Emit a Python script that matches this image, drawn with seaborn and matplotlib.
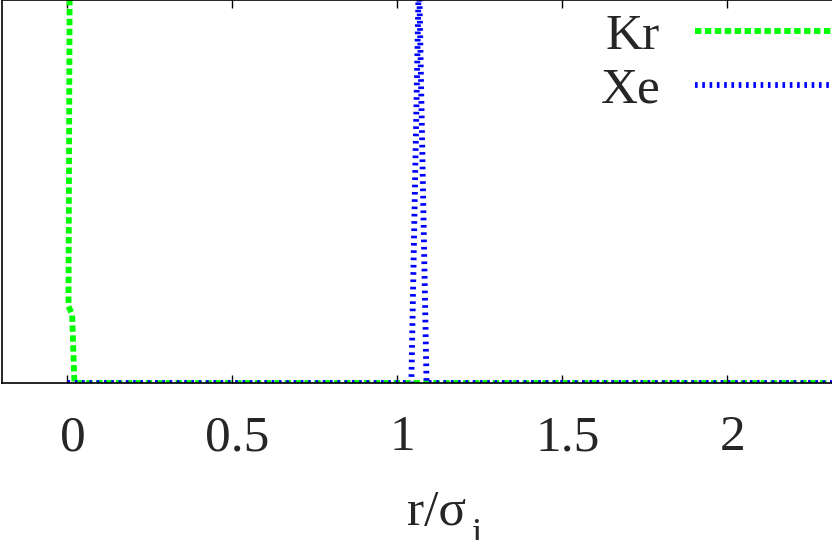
import matplotlib
matplotlib.use("Agg")
import matplotlib.pyplot as plt
import matplotlib.transforms as mtransforms
import seaborn as sns

# radial profiles (g in units of the visible y range)
r_kr = [0.0085, 0.003, 0.014, 0.021, 0.5, 1.0, 1.5, 2.0, 2.5]
g_kr = [1.5, 0.2, 0.18, 0.0, 0.0, 0.0, 0.0, 0.0, 0.0]

r_xe = [0.0, 0.5, 1.042, 1.065, 1.088, 1.5, 2.0, 2.5]
g_xe = [0.0, 0.0, 0.0, 1.08, 0.0, 0.0, 0.0, 0.0]

xticks = [0, 0.5, 1, 1.5, 2, 2.5]
xticklabels = ["0", "0.5", "1", "1.5", "2", ""]   # 2.5 falls outside the crop

sns.set_theme(style="white")
plt.rcParams["font.family"] = ["Liberation Serif", "DejaVu Serif"]

fig = plt.figure(figsize=(8.32, 5.40), dpi=100)
# the original is a crop of a bigger gnuplot figure, so the axes run off the right edge
ax = fig.add_axes([1.5 / 832, (540 - 383) / 540, 891 / 832, 383 / 540])

sns.lineplot(x=r_kr, y=g_kr, sort=False, color="#00ff00", lw=4.2,
             ls=(0, (1.1, 0.6)), label="Kr", ax=ax)
sns.lineplot(x=r_xe, y=g_xe, sort=False, color="#0000ff", lw=4.2,
             ls=(0, (0.45, 0.8)), label="Xe", ax=ax)
for ln in ax.get_lines():
    ln.set_dash_capstyle("butt")

ax.set_xlim(-0.2, 2.5)
ax.set_ylim(0, 1)
ax.set_xticks(xticks)
ax.set_xticklabels(xticklabels)
ax.set_yticks([])
ax.tick_params(axis="x", direction="in", length=6, width=1, color="black",
               top=True, bottom=True, labelsize=37, pad=23)
offset = mtransforms.ScaledTranslation(5 / 100, 0, fig.dpi_scale_trans)
for lab in ax.get_xticklabels():
    lab.set_transform(lab.get_transform() + offset)

for sp in ax.spines.values():
    sp.set_visible(True)
    sp.set_color("black")
    sp.set_linewidth(1.2)

ax.set_xlabel("r/σ", fontsize=37, labelpad=20)
ax.xaxis.label.set_x(0.488)
ax.set_ylabel("")
# subscript i, set low and small like the gnuplot enhanced text
ax.annotate("i", xy=(1, 0), xycoords=ax.xaxis.label, xytext=(4, -6),
            textcoords="offset points", ha="left", va="baseline", fontsize=27,
            annotation_clip=False)

leg = ax.legend(loc="upper right", bbox_to_anchor=(0.951, 0.965), markerfirst=False,
                frameon=False, fontsize=37, handlelength=3, handletextpad=0.67,
                labelspacing=0.12, borderpad=0, borderaxespad=0)

fig.savefig("out.png", dpi=100)
